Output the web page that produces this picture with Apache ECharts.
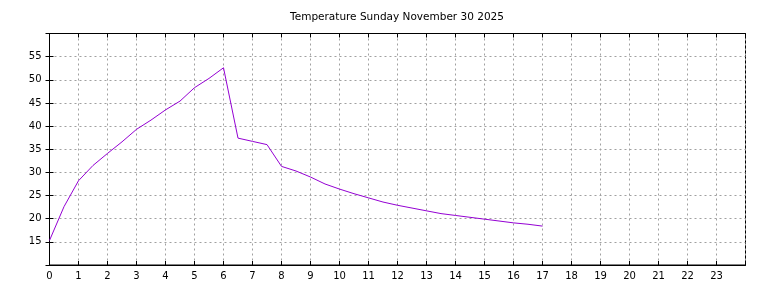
<!DOCTYPE html>
<html><head><meta charset="utf-8">
<script src="https://cdn.jsdelivr.net/npm/echarts@6/dist/echarts.min.js"></script>
<style>html,body{margin:0;padding:0;background:#fff}#c{width:768px;height:288px}</style>
</head><body><div id="c"></div>
<script>
const titleText = "Temperature Sunday November 30 2025";
const hours = [0,0.5,1,1.5,2,2.5,3,3.5,4,4.5,5,5.5,6,6.5,7,7.5,8,8.5,9,9.5,10,10.5,11,11.5,12,12.5,13,13.5,14,14.5,15,15.5,16,16.5,17];
const temps = [15.3,22.6,28.2,31.5,34.1,36.6,39.3,41.3,43.5,45.4,48.3,50.3,52.6,37.4,36.7,36.0,31.3,30.3,29.0,27.5,26.4,25.4,24.5,23.6,22.9,22.3,21.7,21.1,20.7,20.3,19.9,19.5,19.1,18.8,18.4];
const xTicks = [0,1,2,3,4,5,6,7,8,9,10,11,12,13,14,15,16,17,18,19,20,21,22,23];
const yTicks = [15,20,25,30,35,40,45,50,55];

const font = 'DejaVu Sans';
const chart = echarts.init(document.getElementById('c'), null, {renderer:'canvas'});
const tickStyle = {show:true,inside:true,length:4,lineStyle:{color:'#000'}};
const gridLine = {show:true,lineStyle:{color:'#a0a0a0',type:[2,3],width:1}};
chart.setOption({
  animation:false,
  graphic:[{type:'text',x:397,y:17,style:{text:titleText,fontFamily:font,fontSize:10.5,fill:'#000',align:'center',verticalAlign:'middle'}}],
  grid:{left:49.5,right:22.5,top:33.5,bottom:23,show:true,borderColor:'#000',borderWidth:1,backgroundColor:'transparent'},
  xAxis:[{type:'value',min:0,max:24,interval:1,position:'bottom',
    axisLine:{show:true,lineStyle:{color:'#000',width:1}},
    axisTick:tickStyle,
    axisLabel:{fontFamily:font,fontSize:10,color:'#000',margin:6,
      formatter:v=>xTicks.includes(v)?String(v):''},
    splitLine:gridLine},
   {type:'value',min:0,max:24,interval:1,position:'top',
    axisLine:{show:true,lineStyle:{color:'#000',width:1}},
    axisTick:tickStyle,axisLabel:{show:false},splitLine:{show:false}}],
  yAxis:[{type:'value',min:10,max:60,interval:5,position:'left',
    axisLine:{show:true,lineStyle:{color:'#000',width:1}},
    axisTick:tickStyle,
    axisLabel:{fontFamily:font,fontSize:10,color:'#000',margin:8,
      formatter:v=>yTicks.includes(v)?String(v):''},
    splitLine:gridLine},
   {type:'value',min:10,max:60,interval:5,position:'right',
    axisLine:{show:true,lineStyle:{color:'#000',width:1}},
    axisTick:tickStyle,axisLabel:{show:false},splitLine:{show:false}}],
  series:[{type:'line',data:hours.map((h,i)=>[h,temps[i]]),showSymbol:false,
    lineStyle:{color:'#9400d3',width:1},itemStyle:{color:'#9400d3'}}]
});
</script></body></html>
